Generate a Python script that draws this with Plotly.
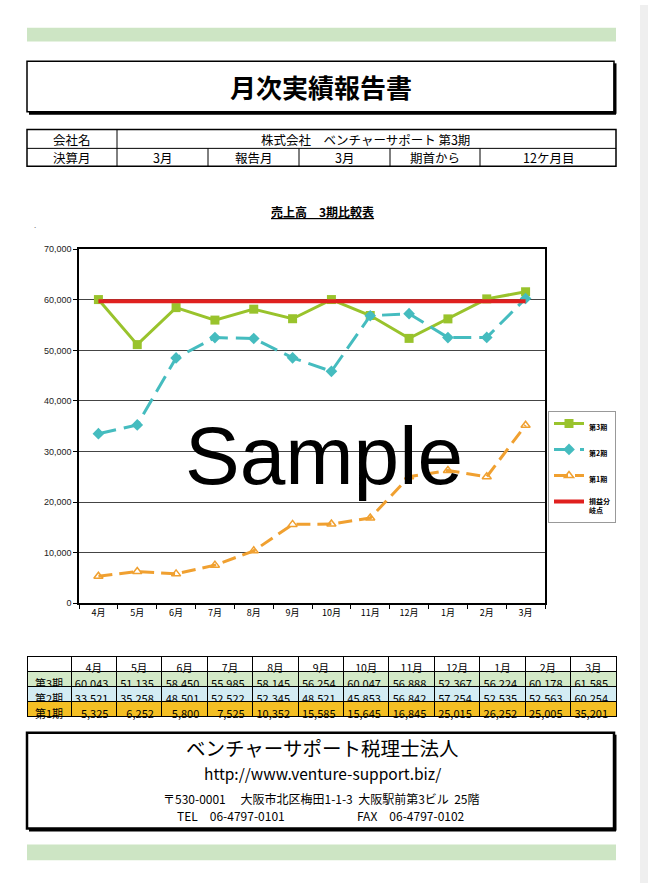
import plotly.graph_objects as go

W, H = 648, 888

# ---------------- data ----------------
MONTHS = ["4月", "5月", "6月", "7月", "8月", "9月", "10月", "11月", "12月", "1月", "2月", "3月"]
PERIOD3 = [60043, 51135, 58450, 55985, 58145, 56254, 60047, 56888, 52367, 56224, 60178, 61585]
PERIOD2 = [33521, 35258, 48501, 52522, 52345, 48521, 45853, 56842, 57254, 52535, 52563, 60254]
PERIOD1 = [5325, 6252, 5800, 7525, 10352, 15585, 15645, 16845, 25015, 26252, 25005, 35201]
BREAK_EVEN = 59700
SERIES_NAMES = ["第3期", "第2期", "第1期", "損益分<br>岐点"]
ROW_LABELS = ["第3期", "第2期", "第1期"]

TITLE = "月次実績報告書"
COMPANY_LABEL = "会社名"
COMPANY_NAME = "株式会社　ベンチャーサポート 第3期"
HEADER_ROW2 = ["決算月", "3月", "報告月", "3月", "期首から", "12ケ月目"]
CHART_TITLE = "売上高　3期比較表"
FOOTER_NAME = "ベンチャーサポート税理士法人"
FOOTER_URL = "http://www.venture-support.biz/"
FOOTER_ADDR = "〒530-0001　 大阪市北区梅田1-1-3  大阪駅前第3ビル  25階"
FOOTER_TEL = "TEL　06-4797-0101"
FOOTER_FAX = "FAX　06-4797-0102"

C3, C2, C1, CR = "#99c32c", "#45bcbf", "#f0a030", "#e0201f"
ROW_FILLS = ["#d3e9c7", "#d3ecf3", "#f4bf24"]
BAND = "#cde5c4"
JP = "Noto Sans CJK JP"


def X(p):
    return p / W


def Y(p):
    return 1 - p / H


shapes = []
annotations = []


def rect(x0, y0, x1, y1, fill=None, lw=0, lc="black", layer="above"):
    shapes.append(dict(type="rect", xref="paper", yref="paper",
                       x0=X(x0), x1=X(x1), y0=Y(y1), y1=Y(y0),
                       fillcolor=fill if fill else "rgba(0,0,0,0)",
                       line=dict(width=lw, color=lc), layer=layer))


def line(x0, y0, x1, y1, lw=1, lc="black"):
    shapes.append(dict(type="line", xref="paper", yref="paper",
                       x0=X(x0), x1=X(x1), y0=Y(y0), y1=Y(y1),
                       line=dict(width=lw, color=lc)))


def text(x, y, s, size=12, anchor="center", family=JP, color="black", yanchor="middle"):
    annotations.append(dict(xref="paper", yref="paper", x=X(x), y=Y(y), text=s,
                            showarrow=False, xanchor=anchor, yanchor=yanchor,
                            font=dict(size=size, family=family, color=color)))


# page edge strip & green bands
rect(640, 0, 648, 888, fill="#efefef", layer="below")
rect(27, 23, 616, 37, fill=BAND, layer="below")
rect(27, 849, 616, 865, fill=BAND, layer="below")

# title box
rect(27, 57, 614, 108, lw=1.5)
line(615, 59, 615, 110, lw=3)
line(29, 109.5, 616, 109.5, lw=3)
text(321, 82, "<b>" + TITLE + "</b>", size=26)

# header info table
rect(27, 126, 616, 163, lw=1.5)
line(27, 145, 616, 145, lw=1)
line(117, 126, 117, 163, lw=1)
col_edges = [27, 117, 208, 299, 390, 480, 616]
for xe in col_edges[2:-1]:
    line(xe, 145, xe, 163, lw=1)
text(72, 136, COMPANY_LABEL, size=12.5)
text(366, 136, COMPANY_NAME, size=12.5)
for i, s in enumerate(HEADER_ROW2):
    text((col_edges[i] + col_edges[i + 1]) / 2, 154.5, s, size=12.5)

# chart title
text(322, 209, "<b><u>" + CHART_TITLE + "</u></b>", size=12)
text(35, 222, ".", size=8, color="#777")

# watermark
text(324, 456, "Sample", size=82, family="Liberation Sans Narrow, Arial Narrow, Liberation Sans")

# footer box
rect(27, 736, 614, 833, lw=2.5)
line(615, 738, 615, 835, lw=3)
line(29, 834.5, 616, 834.5, lw=3)
text(322, 751, FOOTER_NAME, size=19.5)
text(322, 777, FOOTER_URL, size=15.5)
text(321, 803, FOOTER_ADDR, size=12)
text(175, 820, FOOTER_TEL, size=12, anchor="left")
text(355, 820, FOOTER_FAX, size=12, anchor="left")

fig = go.Figure()

fig.add_trace(go.Scatter(x=MONTHS, y=PERIOD3, name="<b>" + SERIES_NAMES[0] + "</b>", legendgroup="a",
                         mode="lines+markers", line=dict(color=C3, width=3),
                         marker=dict(symbol="square", size=9, color=C3)))
fig.add_trace(go.Scatter(x=MONTHS, y=PERIOD2, name="<b>" + SERIES_NAMES[1] + "</b>", legendgroup="b",
                         mode="lines+markers", line=dict(color=C2, width=3, dash="18px,8px"),
                         marker=dict(symbol="diamond", size=9, color=C2)))
fig.add_trace(go.Scatter(x=MONTHS, y=PERIOD1, name="<b>" + SERIES_NAMES[2] + "</b>", legendgroup="c",
                         mode="lines+markers", line=dict(color=C1, width=3, dash="14px,7px"),
                         marker=dict(symbol="triangle-up-open", size=8, color=C1, line=dict(width=1.5, color=C1))))
fig.add_trace(go.Scatter(x=MONTHS, y=[BREAK_EVEN] * len(MONTHS), name="<b>" + SERIES_NAMES[3] + "</b>",
                         legendgroup="d", mode="lines", line=dict(color=CR, width=4)))

# data table
cell_values = [ROW_LABELS] + [[PERIOD3[i], PERIOD2[i], PERIOD1[i]] for i in range(len(MONTHS))]
fig.add_trace(go.Table(
    domain=dict(x=[X(27), X(616)], y=[Y(732), Y(659)]),
    columnwidth=[44] + [45.4] * len(MONTHS),
    header=dict(values=[""] + MONTHS, fill_color="white", align="center",
                line=dict(color="black", width=1), height=15,
                font=dict(family=JP, size=10.5, color="black")),
    cells=dict(values=cell_values, format=[None] + [","] * len(MONTHS),
               fill_color=[ROW_FILLS] * (len(MONTHS) + 1),
               align=["center"] + ["right"] * len(MONTHS),
               line=dict(color="black", width=1), height=15,
               font=dict(family=JP, size=11, color="black")),
))

fig.update_layout(
    width=W, height=H, autosize=False,
    margin=dict(l=0, r=0, t=0, b=0),
    paper_bgcolor="white", plot_bgcolor="white",
    shapes=shapes, annotations=annotations,
    showlegend=True,
    legend=dict(x=X(548), y=Y(411), xanchor="left", yanchor="top",
                bgcolor="white", bordercolor="#999", borderwidth=1,
                font=dict(size=7, family=JP, color="black"),
                itemwidth=30, tracegroupgap=7, valign="top",
                traceorder="grouped"),
    xaxis=dict(domain=[X(79), X(545)], type="category", range=[-0.5, 11.5], autorange=False,
               showgrid=False,
               showline=True, linecolor="black", linewidth=1.5, mirror=True,
               ticks="outside", tickson="boundaries", ticklen=4, tickcolor="black",
               tickfont=dict(size=9, family=JP, color="black"), fixedrange=True),
    yaxis=dict(domain=[Y(605), Y(247)], range=[0, 70000], dtick=10000, tickformat=",",
               showgrid=True, gridcolor="#444", gridwidth=1,
               showline=True, linecolor="black", linewidth=1.5, mirror=True,
               ticks="outside", ticklen=4, tickcolor="black", zeroline=False,
               tickfont=dict(size=9, family="Liberation Sans", color="#222"), fixedrange=True),
)

fig.write_html("out.html")
